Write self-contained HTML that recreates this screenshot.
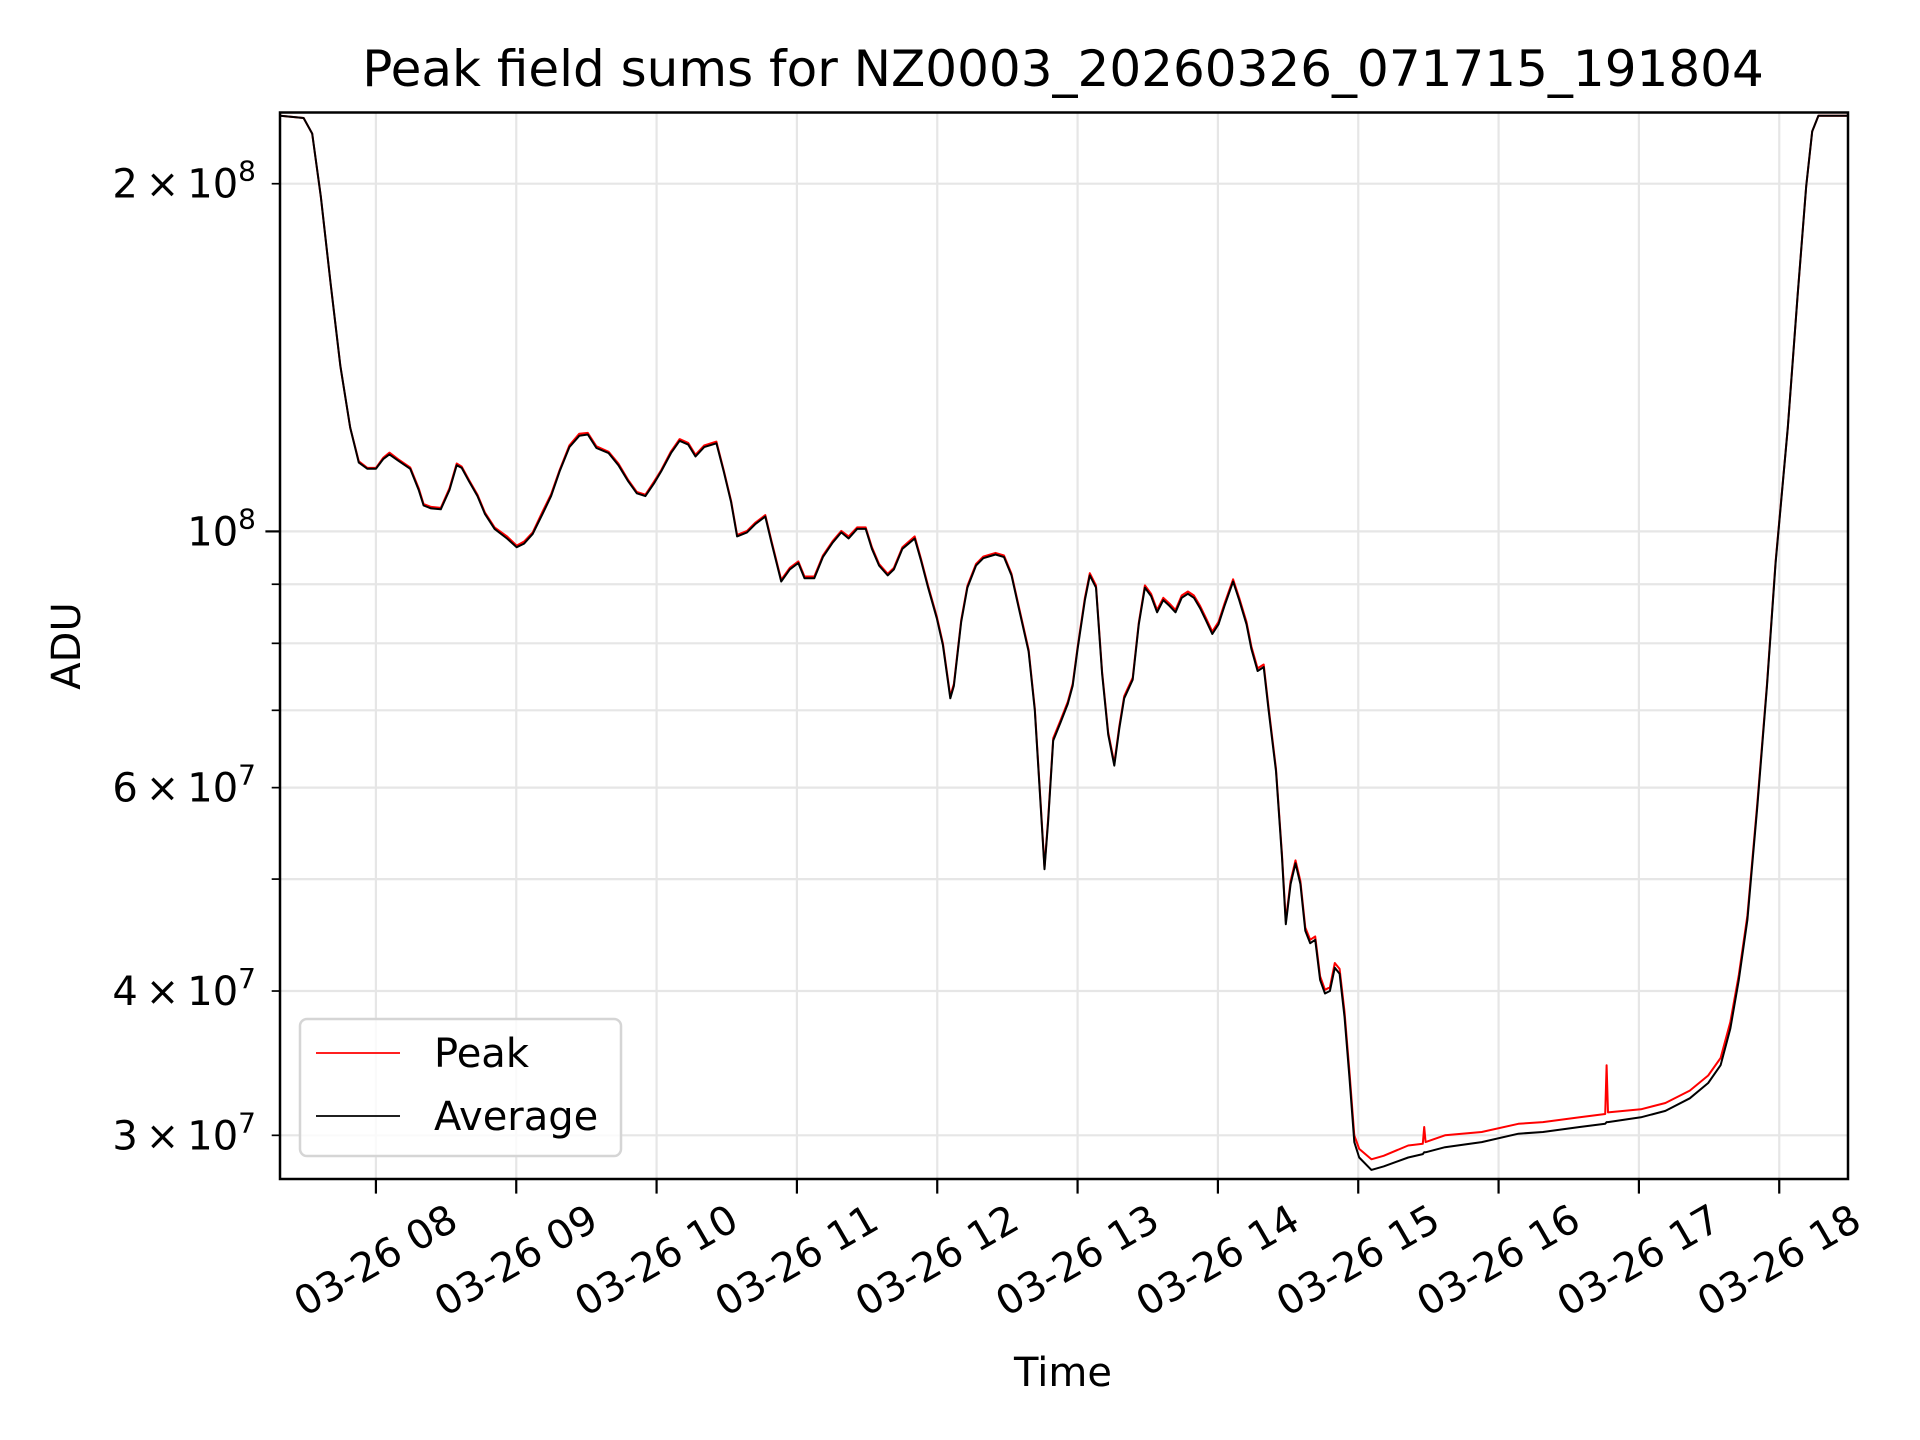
<!DOCTYPE html>
<html><head><meta charset="utf-8">
<style>
html,body{margin:0;padding:0;background:#fff;}
svg{display:block;font-family:"DejaVu Sans","Liberation Sans",sans-serif;}
</style></head>
<body>
<svg id="chart" width="1920" height="1440" viewBox="0 0 1920 1440" xmlns="http://www.w3.org/2000/svg">
<rect width="1920" height="1440" fill="#fff"/>
<g id="grid"></g>
<g id="series" clip-path="url(#clip)"></g>
<defs><clipPath id="clip"><rect x="280" y="112" width="1568" height="1067"/></clipPath></defs>
<rect x="280" y="112.5" width="1568" height="1066.5" fill="none" stroke="#000" stroke-width="2.5"/>
<g id="ticks"></g>
<text x="1063" y="86" font-size="50" text-anchor="middle">Peak field sums for NZ0003_20260326_071715_191804</text>
<text x="1063" y="1386" font-size="40" text-anchor="middle">Time</text>
<text x="0" y="0" font-size="40" text-anchor="middle" transform="translate(80,646) rotate(-90)">ADU</text>
<g>
<rect x="300" y="1019" width="321" height="137" rx="7" fill="#fff" fill-opacity="0.8" stroke="#d5d5d5" stroke-width="2.5"/>
<line x1="316" y1="1053" x2="400" y2="1053" stroke="#ff0000" stroke-width="1.8"/>
<text x="434" y="1067" font-size="40">Peak</text>
<line x1="316" y1="1116" x2="400" y2="1116" stroke="#000" stroke-width="1.8"/>
<text x="434" y="1130" font-size="40">Average</text>
</g>
</svg>
<script>
// times in hours of day (03-26), values in units of 1e7 ADU
const times = [7.319,7.485,7.546,7.607,7.677,7.747,7.817,7.878,7.939,8.0,8.052,8.096,8.157,8.244,8.305,8.340,8.393,8.462,8.524,8.576,8.611,8.663,8.724,8.777,8.846,8.934,9.003,9.056,9.117,9.187,9.248,9.309,9.379,9.449,9.510,9.571,9.658,9.728,9.798,9.859,9.920,9.981,10.033,10.103,10.164,10.225,10.277,10.339,10.426,10.478,10.531,10.574,10.644,10.705,10.775,10.819,10.888,10.949,11.010,11.054,11.124,11.185,11.255,11.316,11.368,11.429,11.490,11.534,11.586,11.647,11.691,11.752,11.839,11.883,11.935,11.997,12.040,12.093,12.119,12.171,12.215,12.276,12.328,12.415,12.476,12.529,12.581,12.651,12.695,12.738,12.764,12.791,12.826,12.878,12.930,12.965,13.0,13.052,13.087,13.131,13.175,13.218,13.262,13.297,13.332,13.393,13.436,13.480,13.524,13.567,13.611,13.655,13.698,13.742,13.786,13.829,13.873,13.916,13.960,14.004,14.047,14.108,14.152,14.204,14.239,14.283,14.326,14.361,14.414,14.457,14.484,14.518,14.553,14.588,14.623,14.658,14.693,14.728,14.763,14.798,14.833,14.867,14.902,14.937,14.972,15.007,15.094,15.181,15.356,15.46,15.47,15.48,15.618,15.880,16.141,16.316,16.578,16.76,16.77,16.78,17.014,17.189,17.363,17.494,17.582,17.651,17.712,17.773,17.843,17.913,17.974,18.061,18.131,18.192,18.235,18.279,18.489];
const averageValues = [22.9,22.8,22.1,19.5,16.4,13.9,12.3,11.47,11.33,11.33,11.55,11.66,11.52,11.33,10.86,10.53,10.47,10.45,10.86,11.41,11.35,11.05,10.73,10.35,10.05,9.86,9.69,9.76,9.95,10.35,10.73,11.27,11.83,12.1,12.13,11.81,11.69,11.41,11.05,10.79,10.73,11.0,11.27,11.69,11.98,11.89,11.61,11.83,11.92,11.27,10.6,9.9,9.98,10.15,10.3,9.78,9.05,9.27,9.39,9.11,9.11,9.5,9.78,9.98,9.86,10.05,10.05,9.66,9.34,9.16,9.27,9.66,9.86,9.45,8.94,8.41,7.97,7.17,7.35,8.35,8.94,9.34,9.48,9.55,9.5,9.16,8.58,7.87,7.0,5.76,5.1,5.62,6.59,6.83,7.09,7.35,7.91,8.72,9.16,8.94,7.53,6.67,6.27,6.75,7.17,7.44,8.31,8.94,8.79,8.51,8.72,8.62,8.51,8.76,8.83,8.76,8.58,8.37,8.15,8.31,8.62,9.05,8.72,8.31,7.91,7.57,7.63,7.0,6.2,5.22,4.57,4.95,5.16,4.95,4.51,4.4,4.43,4.09,3.98,4.0,4.19,4.14,3.8,3.37,2.96,2.87,2.80,2.82,2.87,2.89,2.90,2.90,2.93,2.96,3.01,3.02,3.05,3.07,3.08,3.08,3.11,3.15,3.23,3.33,3.45,3.71,4.09,4.61,5.76,7.35,9.39,12.3,16.0,19.9,22.2,22.9,22.9];
const peakValues = [22.9,22.8,22.1,19.5,16.4,13.9,12.3,11.5,11.35,11.35,11.58,11.7,11.55,11.36,10.9,10.56,10.5,10.48,10.9,11.45,11.38,11.08,10.76,10.38,10.08,9.9,9.72,9.8,9.98,10.4,10.77,11.3,11.87,12.15,12.17,11.85,11.72,11.45,11.08,10.82,10.76,11.04,11.3,11.73,12.02,11.93,11.65,11.87,11.96,11.3,10.63,9.93,10.01,10.18,10.33,9.81,9.08,9.3,9.42,9.14,9.14,9.53,9.81,10.01,9.9,10.08,10.08,9.69,9.37,9.19,9.3,9.69,9.9,9.48,8.97,8.44,8.0,7.2,7.38,8.38,8.97,9.37,9.51,9.58,9.53,9.19,8.61,7.9,7.03,5.79,5.12,5.65,6.62,6.86,7.12,7.38,7.94,8.76,9.2,8.98,7.56,6.7,6.3,6.78,7.2,7.47,8.34,8.98,8.83,8.55,8.76,8.66,8.55,8.8,8.87,8.8,8.62,8.41,8.19,8.35,8.66,9.09,8.76,8.35,7.95,7.61,7.67,7.04,6.23,5.25,4.6,4.98,5.19,4.98,4.54,4.43,4.46,4.12,4.01,4.03,4.23,4.18,3.84,3.41,3.0,2.92,2.86,2.88,2.94,2.95,3.05,2.96,3.0,3.02,3.07,3.08,3.11,3.13,3.45,3.14,3.16,3.2,3.28,3.38,3.5,3.76,4.13,4.65,5.8,7.38,9.42,12.3,16.0,19.9,22.2,22.9,22.9];
const xTickHours = [8,9,10,11,12,13,14,15,16,17,18];
const xTickLabels = ["03-26 08","03-26 09","03-26 10","03-26 11","03-26 12","03-26 13","03-26 14","03-26 15","03-26 16","03-26 17","03-26 18"];
const yMinorValues = [3e7,4e7,5e7,6e7,7e7,8e7,9e7,2e8];
const yLabelled = [[3,7],[4,7],[6,7],[2,8]];

const L=280,R=1848,T=112.5,B=1179;
const xmin=7.3165,xmax=18.490;
function xs(h){return L+(h-xmin)/(xmax-xmin)*(R-L);}
function ys(v){return 531.4-(Math.log10(v)-8)*1155;}
const NS="http://www.w3.org/2000/svg";
function mk(tag,attrs,parent){const e=document.createElementNS(NS,tag);for(const k in attrs)e.setAttribute(k,attrs[k]);parent.appendChild(e);return e;}
const grid=document.getElementById('grid'),ticks=document.getElementById('ticks'),series=document.getElementById('series');

xTickHours.forEach((h,i)=>{
  const x=xs(h);
  const g=mk('line',{x1:x,y1:T,x2:x,y2:B,stroke:'#e6e6e6','stroke-width':2.2},grid);
  
  
  const t=mk('line',{x1:x,y1:B,x2:x,y2:B+14.6,stroke:'#000','stroke-width':2.2},ticks);
  
  
  const lb=mk('text',{x:0,y:0,'font-size':40,'text-anchor':'middle','dominant-baseline':'central',transform:`translate(${x},1261) rotate(-30)`},ticks);
  lb.textContent=xTickLabels[i];
  
  
});
[1e8].concat(yMinorValues).forEach(v=>{
  const y=ys(v);
  const g=mk('line',{x1:L,y1:y,x2:R,y2:y,stroke:'#e6e6e6','stroke-width':2.2},grid);
  
  
  const len=(v===1e8)?14.6:8.3;
  const t=mk('line',{x1:L-len,y1:y,x2:L,y2:y,stroke:'#000','stroke-width':(v===1e8)?2.2:1.7},ticks);
  
  
});
function ylabel(m,e){
  const v=(m?m:1)*Math.pow(10,e);const y=ys(v);
  const tx=mk('text',{x:256,y:y+14,'font-size':40,'text-anchor':'end'},ticks);
  
  
  tx.appendChild(document.createTextNode((m?m+'\u2009\u00d7\u200910':'10')));
  const s=mk('tspan',{dy:-17,'font-size':28},tx);s.textContent=e;
}
ylabel(0,8);
yLabelled.forEach(p=>ylabel(p[0],p[1]));

function drawSeries(vals,color,name){
  let d='';
  times.forEach((h,i)=>{d+=(i?'L':'M')+xs(h).toFixed(1)+','+ys(vals[i]*1e7).toFixed(1);});
  const p=mk('path',{d:d,fill:'none',stroke:color,'stroke-width':2,'stroke-linejoin':'round'},series);
  
  
}
drawSeries(peakValues,'#ff0000','peak-line');
drawSeries(averageValues,'#000000','average-line');
</script>
</body></html>
